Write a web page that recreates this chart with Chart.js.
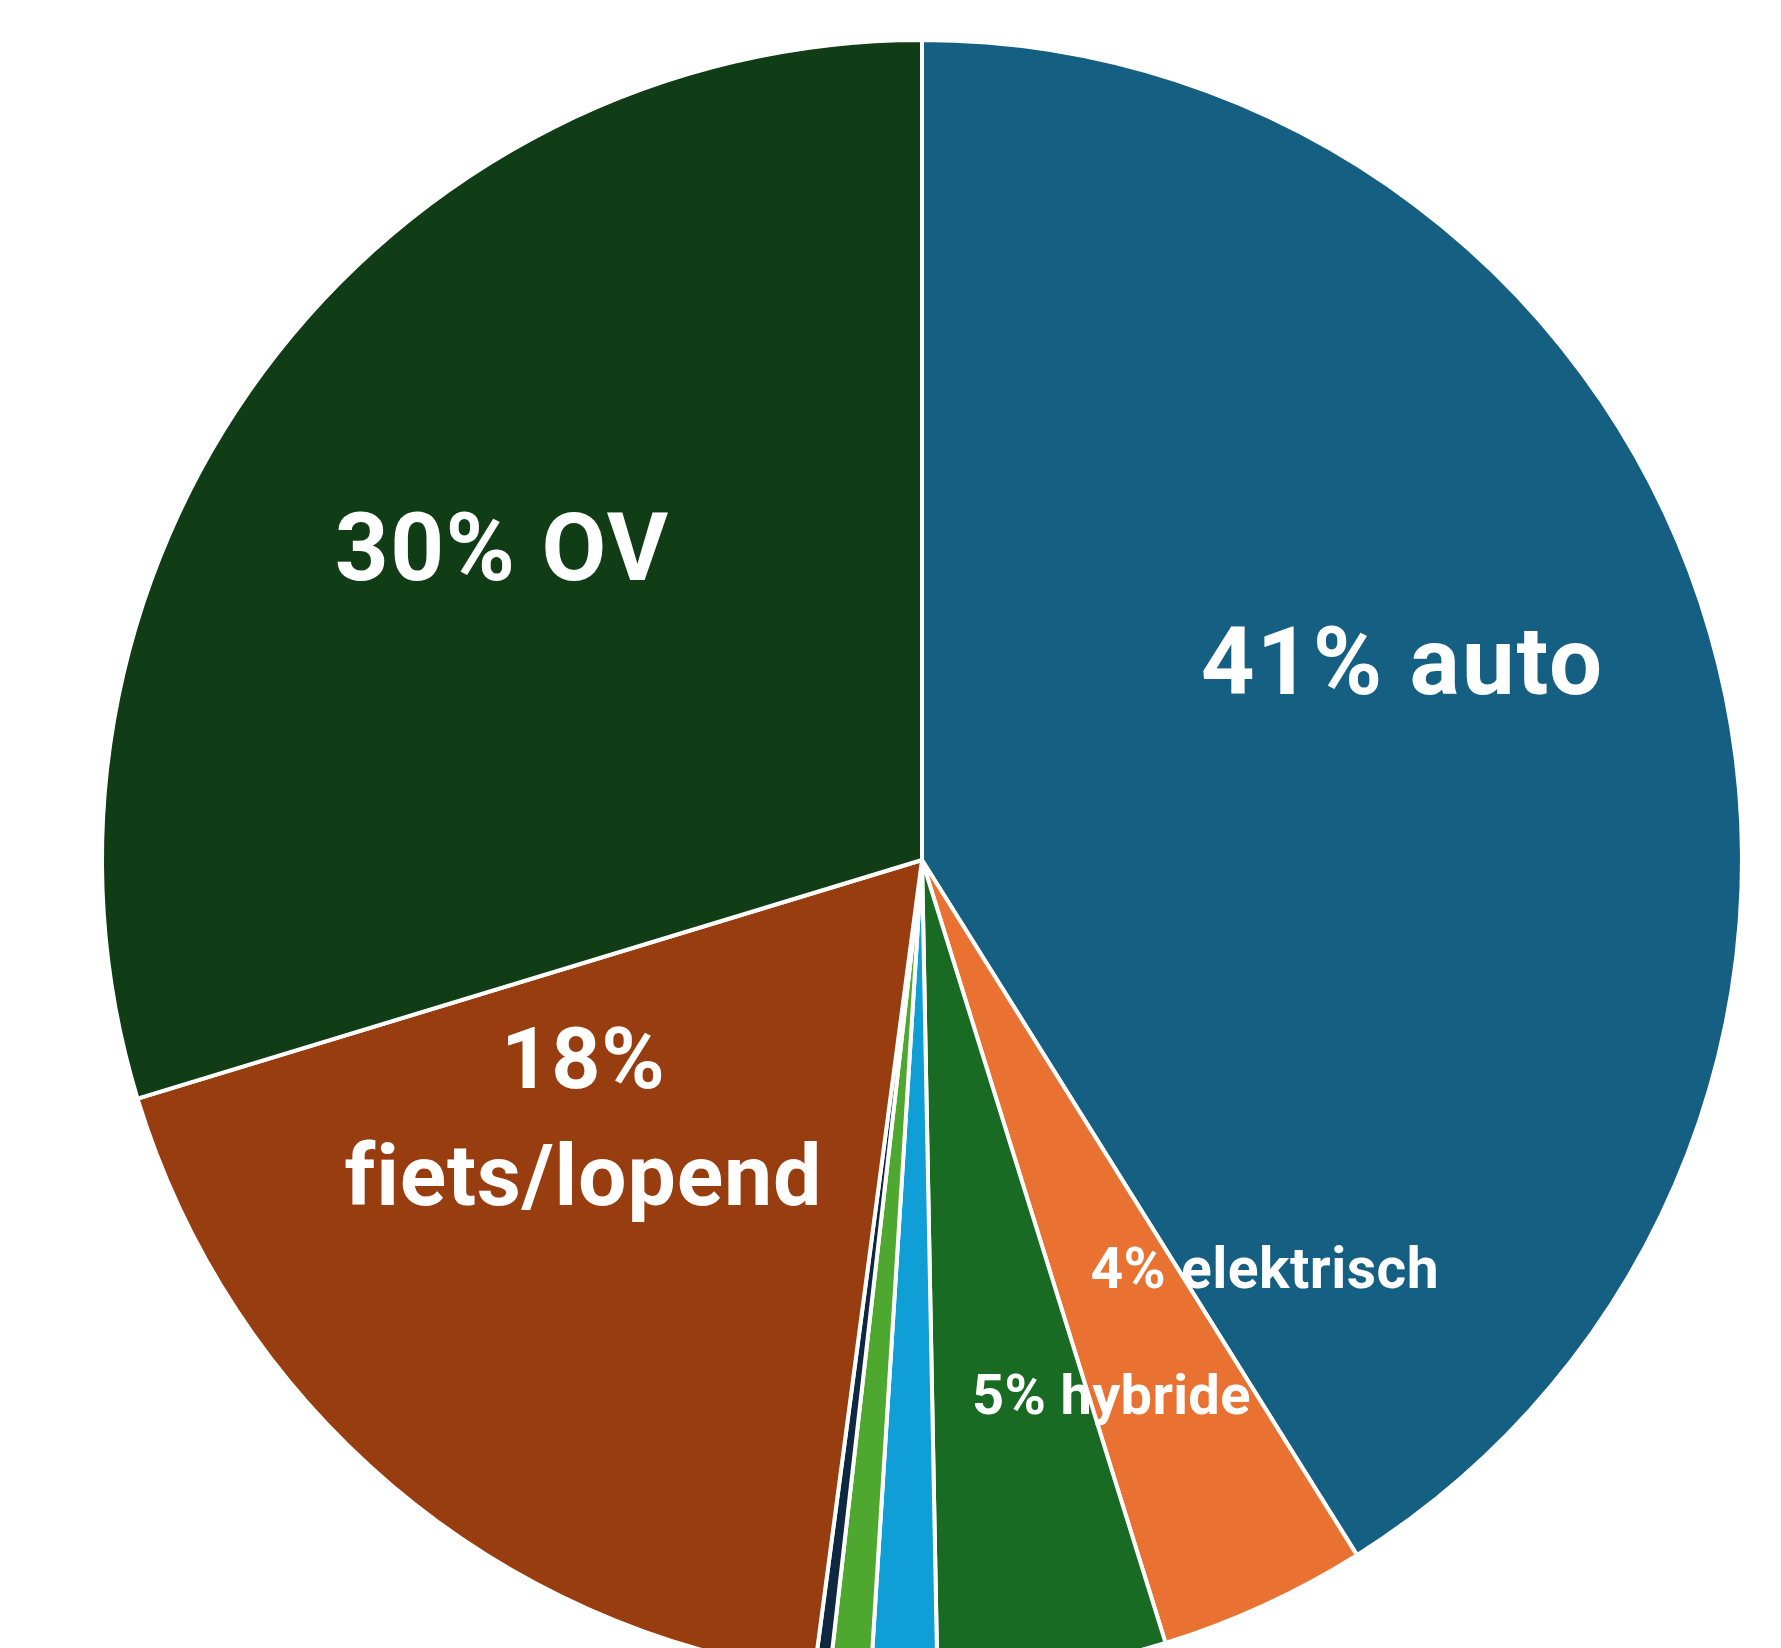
<!DOCTYPE html>
<html>
<head>
<meta charset="utf-8">
<script src="https://cdn.jsdelivr.net/npm/chart.js@4/dist/chart.umd.min.js"></script>
<style>
  html, body { margin: 0; padding: 0; background: #fff; overflow: hidden; }
  #wrap { position: relative; width: 1781px; height: 1720px; }
</style>
</head>
<body>
<div id="wrap"><canvas id="pie"></canvas></div>
<script>
// slices, clockwise from 12 o'clock
const categories = ['auto', 'elektrisch', 'hybride', 'overig 1', 'overig 2', 'overig 3', 'fiets/lopend', 'OV'];
const shares = [41.1, 4.1, 4.5, 1.3, 0.8, 0.3, 18.2, 29.7];
const sliceColors = ['#156082', '#E97132', '#196B24', '#0F9ED5', '#4EA72E', '#0E2841', '#983D0F', '#103D16'];
const labelled = [true, true, true, false, false, false, true, true];

// where each label sits, as a fraction of the radius from the centre (baseline of first line)
const labelLayout = {
    0: { fx: 0.586, fy: -0.202, size: 94, spacing: 2 },
    1: { fx: 0.418, fy: 0.522, size: 57, spacing: 0.5 },
    2: { fx: 0.231, fy: 0.675, size: 56, spacing: 0.3 },
    6: { fx: -0.413, fy: 0.2775, size: 86, spacing: 0.8, split: true, lineGap: 0.143 },
    7: { fx: -0.512, fy: -0.341, size: 94, spacing: 1.5 }
};

const sliceLabels = {
    id: 'sliceLabels',
    afterDatasetsDraw(chart) {
        const arcs = chart.getDatasetMeta(0).data;
        const cx = arcs[0].x, cy = arcs[0].y, r = arcs[0].outerRadius;
        const ctx = chart.ctx;
        ctx.save();
        ctx.fillStyle = '#ffffff';
        ctx.textAlign = 'center';
        ctx.textBaseline = 'alphabetic';
        shares.forEach((v, i) => {
            if (!labelled[i]) return;
            const pos = labelLayout[i];
            const pct = Math.round(v) + '%';
            ctx.font = `bold ${pos.size}px Roboto, "Noto Sans", sans-serif`;
            ctx.letterSpacing = pos.spacing + 'px';
            if (pos.split) {
                ctx.fillText(pct, cx + pos.fx * r, cy + pos.fy * r);
                ctx.fillText(categories[i], cx + pos.fx * r, cy + (pos.fy + pos.lineGap) * r);
            } else {
                ctx.fillText(pct + ' ' + categories[i], cx + pos.fx * r, cy + pos.fy * r);
            }
        });
        ctx.restore();
    }
};

new Chart(document.getElementById('pie'), {
    type: 'pie',
    data: {
        labels: categories,
        datasets: [{
            data: shares,
            backgroundColor: sliceColors,
            borderColor: '#ffffff',
            borderWidth: 4
        }]
    },
    options: {
        responsive: true,
        maintainAspectRatio: false,
        animation: false,
        layout: { padding: { left: 100, right: 37, top: 38, bottom: 38 } },
        plugins: {
            legend: { display: false },
            tooltip: { enabled: false }
        }
    },
    plugins: [sliceLabels]
});
</script>
</body>
</html>
